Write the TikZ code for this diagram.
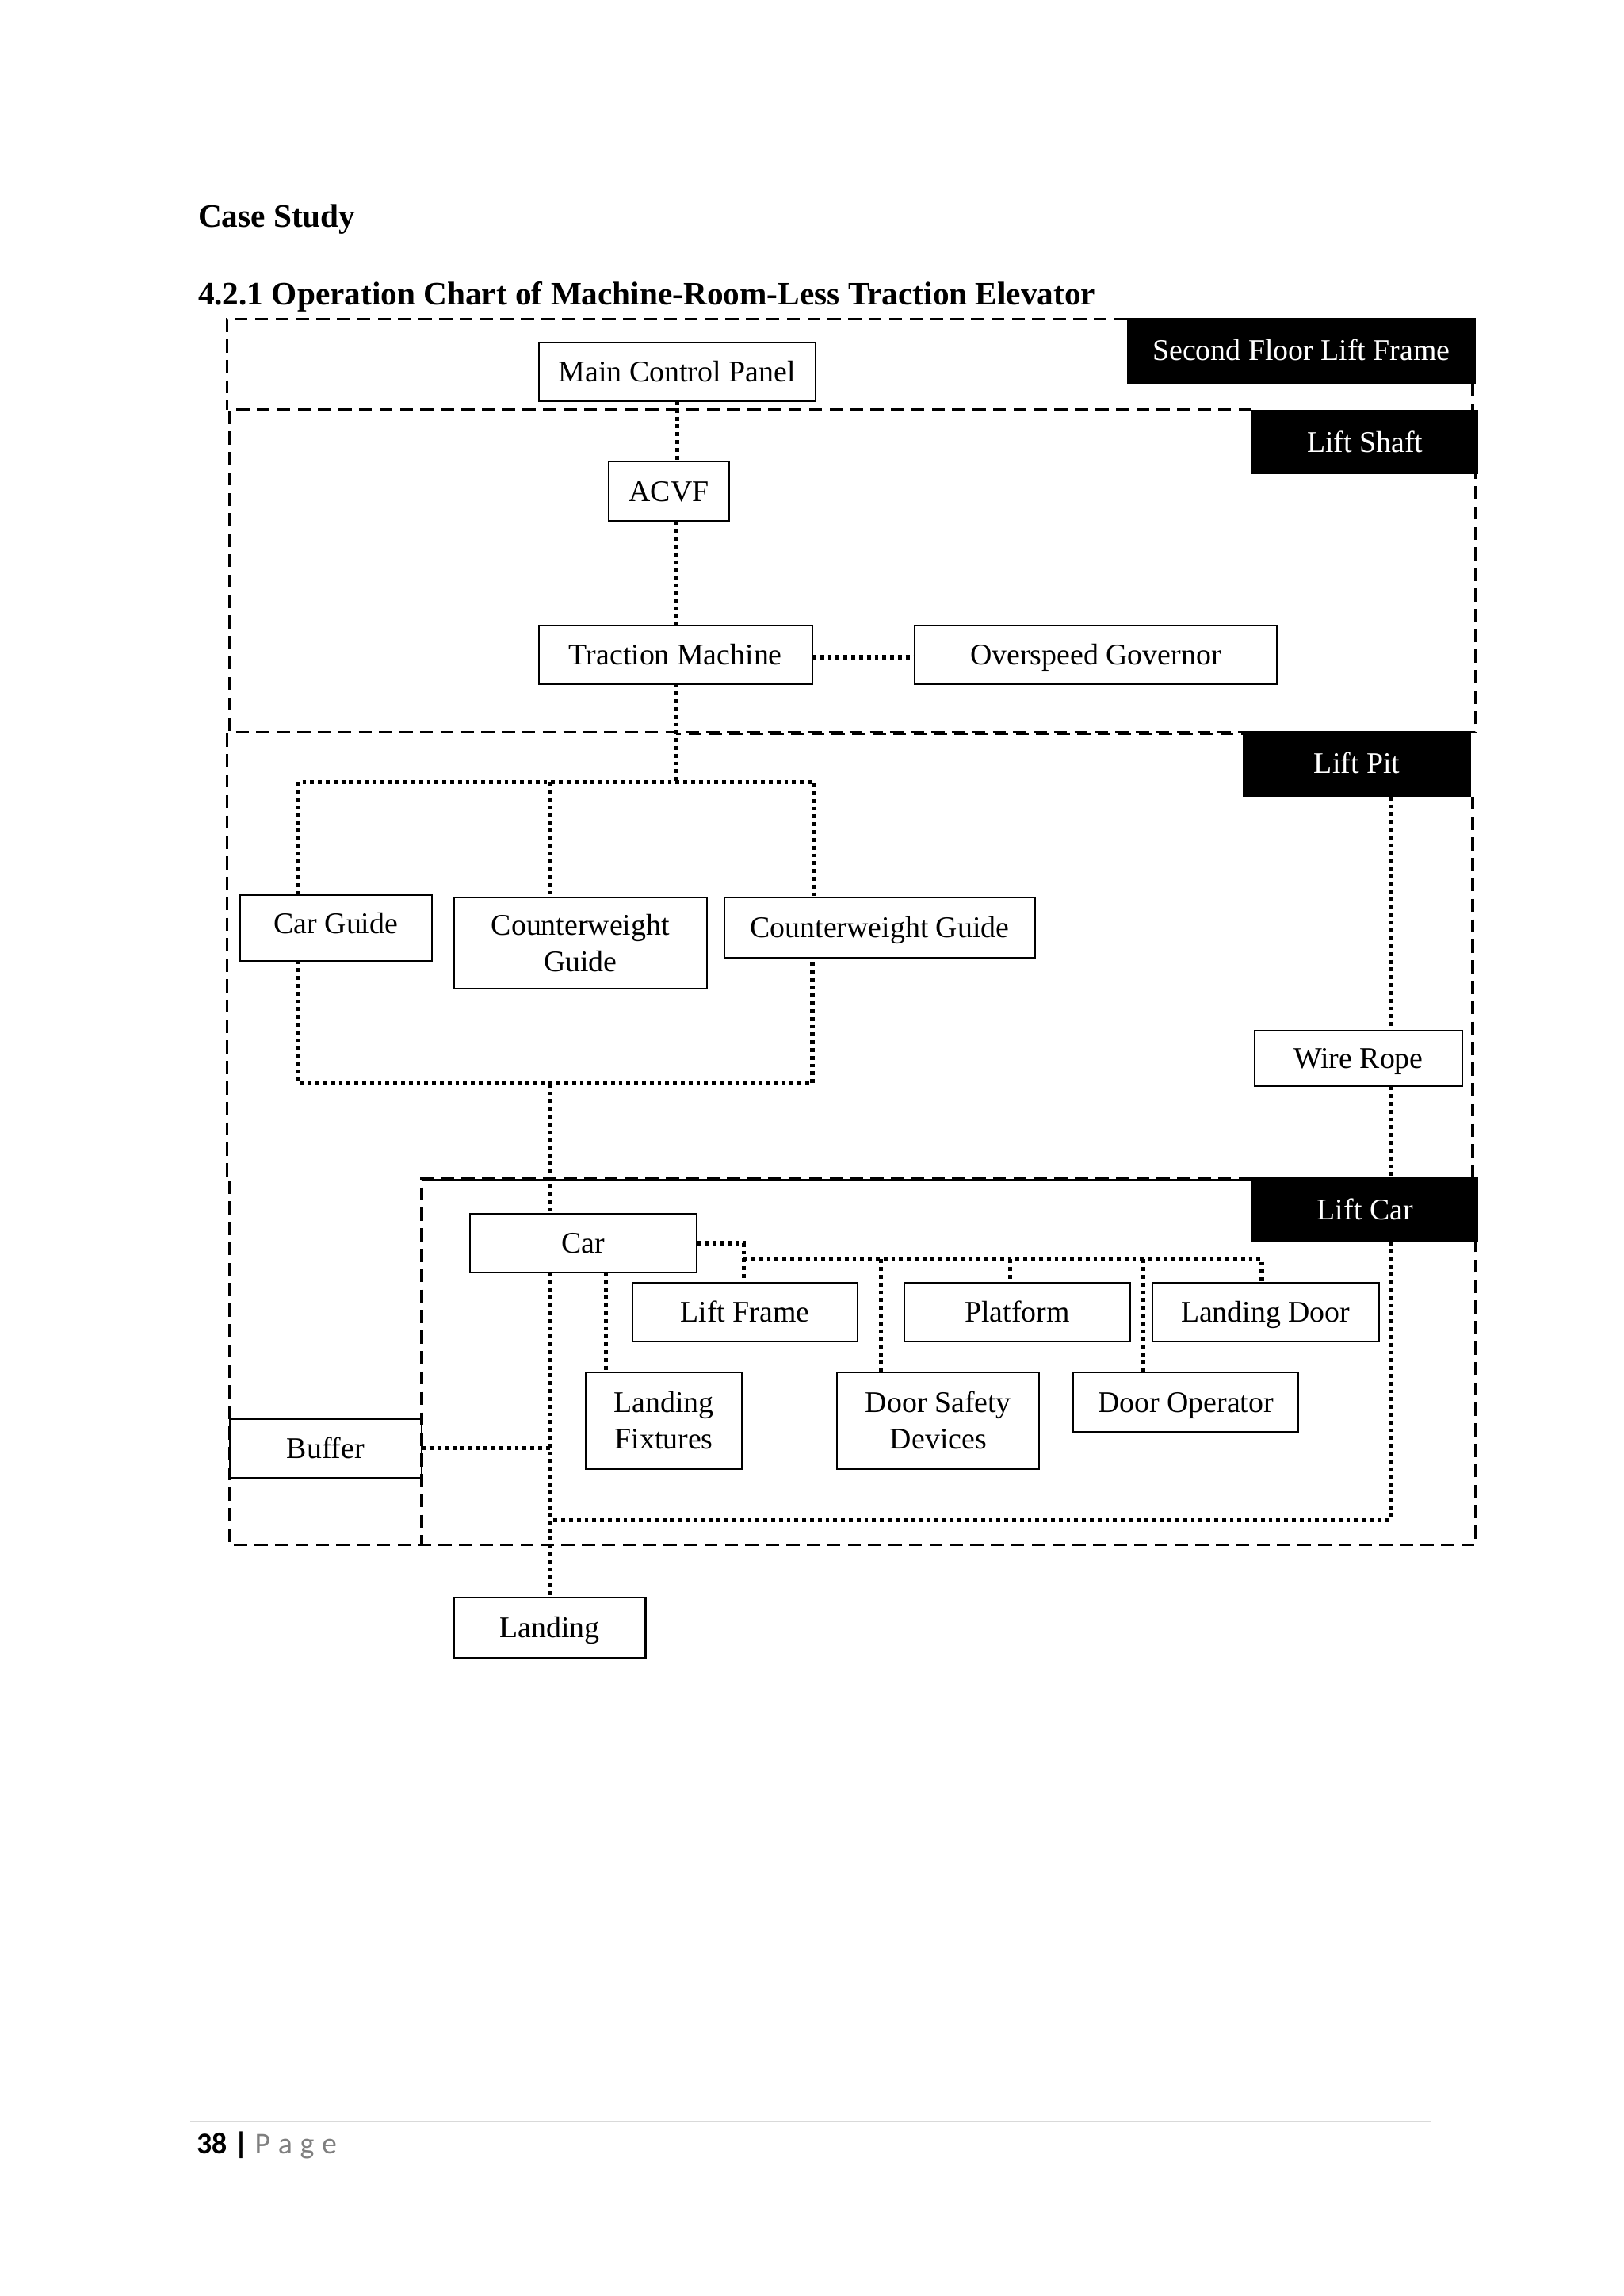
\documentclass[tikz,border=0pt]{standalone}
\usepackage{fontspec}
\setmainfont{Liberation Serif}
\newfontfamily\carlito{Carlito}
\definecolor{pagegray}{RGB}{127,127,127}
\definecolor{rulegray}{RGB}{217,217,217}
\newcommand\chartfont{\fontsize{11}{13.4}\selectfont}
\newcommand\bx[7][box]{%
  \node[#1, minimum width={(#5-#3)*0.53677pt}, minimum height={(#6-#4)*0.53677pt}] (#2) at ({(#3+#5)/2},{(#4+#6)/2}) {#7};}
\begin{document}
\begin{tikzpicture}[x=0.53677pt,y=-0.53677pt,
  box/.style={draw, fill=white, line width=0.6pt, inner sep=0pt, outer sep=0pt, align=center, font=\chartfont},
  one/.style={box, text height=9pt, text depth=1.7pt},
  tag/.style={fill=black, text=white, inner sep=0pt, outer sep=0pt, align=center, font=\chartfont, text height=9pt, text depth=1.7pt},
  dashline/.style={line width=1pt, dash pattern=on 4.8pt off 2.7pt},
  dashlineb/.style={line width=1pt, dash pattern=on 4.8pt off 2.7pt, dash phase=3pt},
  dotline/.style={line width=1.5pt, dash pattern=on 1.4pt off 1.45pt}]
\useasboundingbox (0,0) rectangle (1109,1568);

% headings
\node[anchor=base west, inner sep=0pt, font=\bfseries\fontsize{12}{14}\selectfont] (cs) at (135,155) {Case Study};
\node[anchor=base west, inner sep=0pt, font=\bfseries\fontsize{12}{14}\selectfont] (ttl) at (135,208) {4.2.1 Operation Chart of Machine-Room-Less Traction Elevator};

% region tags
\bx[tag]{sf}{770}{217}{1008}{262}{Second Floor Lift Frame}
\bx[tag]{ls}{855}{280}{1010}{324}{Lift Shaft}
\bx[tag]{pit}{849}{499}{1005}{544}{Lift Pit}
\bx[tag]{lc}{855}{804}{1010}{848}{Lift Car}

% boxes
\bx[one]{mcp}{368}{234}{557}{274}{Main Control Panel}
\bx[one]{acvf}{416}{315}{498}{356}{ACVF}
\bx[one]{tm}{368}{427}{555}{467}{Traction Machine}
\bx[one]{og}{625}{427}{872}{467}{Overspeed Governor}
\bx[one,text depth=4.8pt]{cg}{164}{611}{295}{656}{Car Guide}
\bx{cwg}{310}{613}{483}{675}{Counterweight\\Guide}
\bx[one]{cwgb}{495}{613}{707}{654}{Counterweight Guide}
\bx[one]{wire}{857}{704}{999}{742}{Wire Rope}
\bx[one]{car}{321}{829}{476}{869}{Car}
\bx[one]{lfr}{432}{876}{586}{916}{Lift Frame}
\bx[one]{plat}{618}{876}{772}{916}{Platform}
\bx[one]{ldoor}{787}{876}{942}{916}{Landing Door}
\bx{lfix}{400}{937}{507}{1003}{Landing\\Fixtures}
\bx{dsd}{572}{937}{710}{1003}{Door Safety\\Devices}
\bx[one]{dop}{733}{937}{887}{978}{Door Operator}
\bx[one]{buf}{157}{969}{288}{1009}{Buffer}
\bx[one]{land}{310}{1091}{441}{1132}{Landing}

% region frames (dashed)
\draw[dashline] (770,218) -- (155,218) -- (155,280);
\draw[dashline] (1006,262) -- (1006,280);
\draw[dashline] (855,280) -- (157,280) -- (157,500) -- (1008,500) -- (1008,324);
\draw[dashline] (155,501) -- (155,805) -- (157,805) -- (157,1055) -- (1008,1055) -- (1008,848);
\draw[dashlineb] (462,501) -- (849,501);
\draw[dashline] (1006,544) -- (1006,804);
\draw[dashline] (855,805) -- (288,805) -- (288,1055);
\draw[dashlineb] (855,806) -- (290,806);

% helper coordinates
\coordinate (gl) at (204,534);
\coordinate (gm) at (376,534);
\coordinate (gr) at (556,534);
\coordinate (bl) at (204,740);
\coordinate (bm) at (376,740);
\coordinate (br) at (555,740);
\coordinate (wr) at (950,1038);
\coordinate (lb) at (376,1038);
\coordinate (bus) at (508,860);
\coordinate (busr) at (862,860);
\coordinate (lfx) at (414,900);
\coordinate (dsx) at (602,900);
\coordinate (plx) at (690,900);
\coordinate (dox) at (781,900);

% dotted connectors
\draw[dotline] (mcp.south) -- (mcp.south |- acvf.north);
\draw[dotline] (tm.north |- acvf.south) -- (tm.north);
\draw[dotline] ([yshift=-1pt]tm.east) -- ([yshift=-1pt]og.west);
\draw[dotline] (tm.south) -- (tm.south |- gl);
\draw[dotline] (gl |- cg.north) -- (gl) -- (gr) -- (gr |- cwgb.north);
\draw[dotline] (gm) -- (gm |- cwg.north);
\draw[dotline] (bl |- cg.south) -- (bl) -- (br) -- (br |- cwgb.south);
\draw[dotline] (bm) -- (bm |- car.north);
\draw[dotline] (wr |- pit.south) -- (wr |- wire.north);
\draw[dotline] (wr |- wire.south) -- (wr |- lc.north);
\draw[dotline] (wr |- lc.south) -- (wr) -- (lb);
\draw[dotline] (bm |- car.south) -- (bm |- land.north);
\draw[dotline] (buf.east) -- (buf.east -| bm);
\draw[dotline] (lfx |- car.south) -- (lfx |- lfix.north);
\draw[dotline] (car.east) -- (car.east -| bus) -- (bus |- lfr.north);
\draw[dotline] (bus) -- (busr) -- (busr |- ldoor.north);
\draw[dotline] (dsx |- bus) -- (dsx |- dsd.north);
\draw[dotline] (plx |- bus) -- (plx |- plat.north);
\draw[dotline] (dox |- bus) -- (dox |- dop.north);

% footer
\draw[rulegray, line width=0.6pt] (130,1449) coordinate (fl) -- (978,1449) coordinate (fr);
\node[anchor=base west, inner sep=0pt, font=\carlito\fontsize{11}{13}\selectfont] (pg) at (134,1471) {\textbf{38 |} \textcolor{pagegray}{P\hspace{2.8pt}a\hspace{2.8pt}g\hspace{2.8pt}e}};
\end{tikzpicture}
\end{document}
